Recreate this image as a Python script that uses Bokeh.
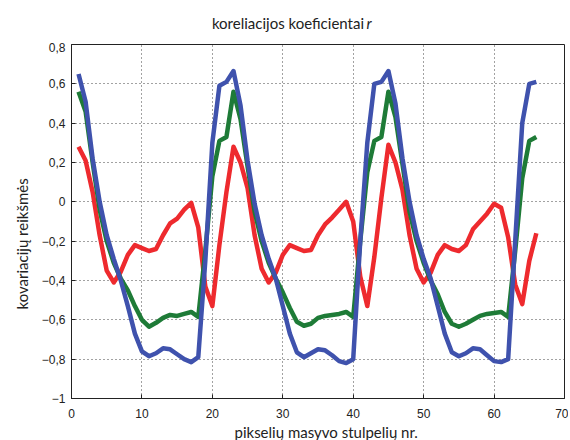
from bokeh.plotting import figure
from bokeh.models import Range1d, FixedTicker, Label, Title
from bokeh.layouts import column
from bokeh.embed import file_html
from bokeh.resources import INLINE

# ---- data ----
x_values = list(range(1, 67))

red_values = [
    0.28, 0.21, 0.05, -0.17, -0.35, -0.41, -0.355, -0.27, -0.22, -0.235, -0.25,
    -0.24, -0.17, -0.11, -0.085, -0.04, -0.005, -0.13, -0.43, -0.53, -0.22, 0.05,
    0.28, 0.20, 0.07, -0.17, -0.34, -0.41, -0.36, -0.27, -0.22, -0.235, -0.25,
    -0.245, -0.17, -0.115, -0.08, -0.04, 0.0, -0.10, -0.38, -0.53, -0.28, 0.02,
    0.29, 0.20, 0.06, -0.17, -0.34, -0.41, -0.36, -0.27, -0.22, -0.24, -0.25,
    -0.22, -0.14, -0.10, -0.06, -0.01, -0.03, -0.18, -0.42, -0.52, -0.30, -0.16,
]
green_values = [
    0.56, 0.46, 0.20, -0.04, -0.20, -0.31, -0.39, -0.45, -0.53, -0.60, -0.635,
    -0.615, -0.59, -0.575, -0.58, -0.57, -0.56, -0.585, -0.25, 0.13, 0.31, 0.33,
    0.56, 0.42, 0.18, -0.05, -0.20, -0.31, -0.39, -0.46, -0.54, -0.61, -0.63,
    -0.62, -0.59, -0.58, -0.575, -0.57, -0.56, -0.585, -0.20, 0.15, 0.31, 0.33,
    0.56, 0.43, 0.19, -0.05, -0.20, -0.31, -0.40, -0.47, -0.56, -0.62, -0.635,
    -0.62, -0.60, -0.58, -0.57, -0.565, -0.56, -0.585, -0.25, 0.12, 0.31, 0.33,
]
blue_values = [
    0.65, 0.51, 0.22, 0.0, -0.17, -0.29, -0.40, -0.53, -0.67, -0.76, -0.785,
    -0.77, -0.745, -0.75, -0.775, -0.80, -0.815, -0.79, -0.30, 0.30, 0.59, 0.61,
    0.665, 0.49, 0.21, -0.01, -0.17, -0.29, -0.39, -0.53, -0.67, -0.765, -0.79,
    -0.77, -0.75, -0.755, -0.78, -0.81, -0.82, -0.80, -0.20, 0.30, 0.60, 0.61,
    0.665, 0.50, 0.22, 0.0, -0.17, -0.29, -0.39, -0.53, -0.67, -0.765, -0.785,
    -0.77, -0.745, -0.75, -0.78, -0.81, -0.815, -0.80, -0.20, 0.40, 0.60, 0.61,
]

x_ticks = [0, 10, 20, 30, 40, 50, 60, 70]
x_tick_labels = ["0", "10", "20", "30", "40", "50", "60", "70"]
y_ticks = [-1, -0.8, -0.6, -0.4, -0.2, 0, 0.2, 0.4, 0.6, 0.8]
y_tick_labels = ["\u22121", "\u22120,8", "\u22120,6", "\u22120,4", "\u22120,2",
                 "0", "0,2", "0,4", "0,6", "0,8"]

title_text = "koreliacijos koeficientai"
title_italic = "r"
x_label = "pikseli\u0173 masyvo stulpeli\u0173 nr."
y_label = "kovariacij\u0173 reik\u0161m\u0117s"

TEXT_COLOR = "#222222"
LABEL_FONT = "Lato"

# ---- title strip (its own small figure, so the texts sit inside a frame) ----
tf = figure(width=568, height=42, output_backend="svg", toolbar_location=None,
            x_range=Range1d(0, 568), y_range=Range1d(0, 42),
            x_axis_location=None, y_axis_location=None, min_border=0)
tf.outline_line_color = None
tf.xgrid.visible = False
tf.ygrid.visible = False
tf.add_layout(Label(x=337, y=20, text=title_text, text_align="right",
                    text_baseline="alphabetic", text_font=LABEL_FONT,
                    text_font_size="15px", text_color=TEXT_COLOR))
tf.add_layout(Label(x=340, y=20, text=title_italic, text_align="left",
                    text_baseline="alphabetic", text_font=LABEL_FONT,
                    text_font_size="15px", text_font_style="italic",
                    text_color=TEXT_COLOR))

# ---- main figure ----
p = figure(width=568, height=398, output_backend="svg", toolbar_location=None,
           x_range=Range1d(0, 70), y_range=Range1d(-1, 0.8),
           min_border_left=71, min_border_right=4, min_border_top=2,
           min_border_bottom=41)
p.outline_line_color = TEXT_COLOR
p.outline_line_width = 1
p.background_fill_color = "white"
p.border_fill_color = "white"

for ax, ticks, labels in ((p.xaxis[0], x_ticks, x_tick_labels),
                          (p.yaxis[0], y_ticks, y_tick_labels)):
    ax.ticker = FixedTicker(ticks=ticks)
    ax.major_label_overrides = {t: l for t, l in zip(ticks, labels)}
    ax.major_label_text_font = "Liberation Sans"
    ax.major_label_text_font_size = "12px"
    ax.major_label_text_color = TEXT_COLOR
    ax.major_tick_in = 4
    ax.major_tick_out = 0
    ax.minor_tick_line_color = None
    ax.axis_line_color = TEXT_COLOR
    ax.major_tick_line_color = TEXT_COLOR
p.xaxis[0].major_label_standoff = 10
p.yaxis[0].major_label_standoff = 6

p.xgrid.ticker = FixedTicker(ticks=x_ticks)
p.ygrid.ticker = FixedTicker(ticks=y_ticks)
for g in (p.xgrid[0], p.ygrid[0]):
    g.grid_line_color = "#444444"
    g.grid_line_dash = "1 3"
    g.grid_line_width = 1

# ---- lines ----
p.line(x_values, red_values, line_color="#EE2A2E", line_width=4.5, line_join="round")
p.line(x_values, green_values, line_color="#1E7B37", line_width=4.5, line_join="round")
p.line(x_values, blue_values, line_color="#3F52AD", line_width=4.5, line_join="round")

# ---- axis titles ----
p.add_layout(Title(text=x_label, align="left", offset=163, standoff=0,
                   text_font=LABEL_FONT, text_font_size="15px",
                   text_font_style="normal", text_color=TEXT_COLOR), "below")
p.add_layout(Title(text=y_label, align="left", offset=89, standoff=16,
                   text_font=LABEL_FONT, text_font_size="15px",
                   text_font_style="normal", text_color=TEXT_COLOR), "left")

layout = column(tf, p, spacing=0)
open("out.html", "w").write(file_html(layout, INLINE))
